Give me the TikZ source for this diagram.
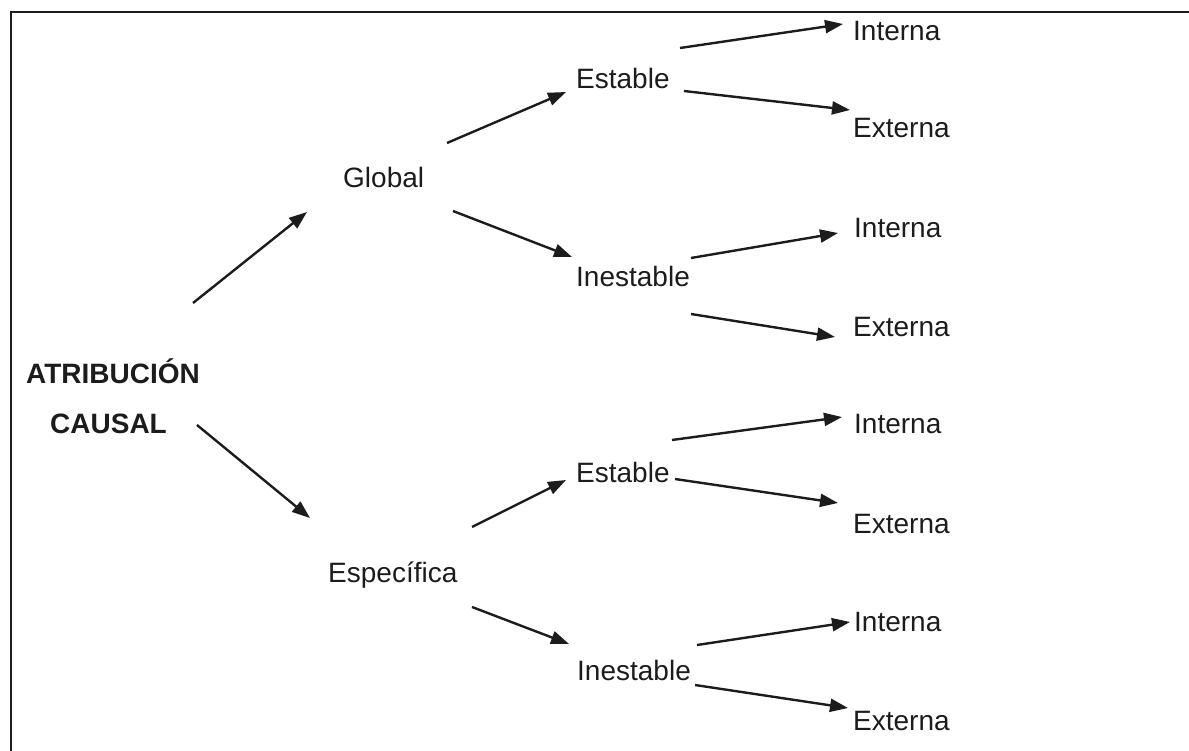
\documentclass[tikz,border=0pt]{standalone}
\usepackage{fontspec}
\setmainfont{Liberation Sans}
\usetikzlibrary{arrows.meta}
\definecolor{ink}{HTML}{1C1C1C}
\tikzset{
  txt/.style={anchor=base west, inner sep=0pt, font=\fontsize{28}{34}\selectfont, text=ink},
  boldtxt/.style={txt, font=\fontsize{28}{34}\selectfont\bfseries},
  arr/.style={draw=ink, line width=2.4pt, -{Triangle[length=18pt,width=13pt]}},
  frame/.style={draw=ink, line width=2pt}
}
\begin{document}
\begin{tikzpicture}[x=1pt,y=-1pt]
\useasboundingbox (0,0) rectangle (1189,751);
\draw[frame] (11,780) -- (11,12) -- (1210,12);
% nodes
\node[boldtxt] (rootA) at (26,384) {ATRIBUCIÓN};
\node[boldtxt] (rootB) at (50,433) {CAUSAL};
\node[txt] (glob) at (343,188) {Global};
\node[txt] (espe) at (328,582) {Específica};
\node[txt] (estA) at (576,89) {Estable};
\node[txt] (inesA) at (576,287) {Inestable};
\node[txt] (estB) at (576,482) {Estable};
\node[txt] (inesB) at (577,680) {Inestable};
\node[txt] (intA) at (853,41) {Interna};
\node[txt] (extA) at (853,138) {Externa};
\node[txt] (intB) at (854,238) {Interna};
\node[txt] (extB) at (853,337) {Externa};
\node[txt] (intC) at (854,433) {Interna};
\node[txt] (extC) at (853,533) {Externa};
\node[txt] (intD) at (854,631) {Interna};
\node[txt] (extD) at (853,730) {Externa};
% connectors
\draw[arr] ([xshift=167pt,yshift=81pt]rootA.base west) -- ([xshift=-36pt,yshift=-24pt]glob.base west);
\draw[arr] ([xshift=147pt,yshift=8pt]rootB.base west) -- ([xshift=-18pt,yshift=64pt]espe.base west);
\draw[arr] ([xshift=104pt,yshift=45pt]glob.base west) -- ([xshift=-10pt,yshift=-3pt]estA.base west);
\draw[arr] ([xshift=110pt,yshift=-23pt]glob.base west) -- ([xshift=-4pt,yshift=30pt]inesA.base west);
\draw[arr] ([xshift=104pt,yshift=41pt]estA.base west) -- ([xshift=-10pt,yshift=17pt]intA.base west);
\draw[arr] ([xshift=108pt,yshift=-2pt]estA.base west) -- ([xshift=-3pt,yshift=28pt]extA.base west);
\draw[arr] ([xshift=115pt,yshift=29pt]inesA.base west) -- ([xshift=-16pt,yshift=5pt]intB.base west);
\draw[arr] ([xshift=115pt,yshift=-27pt]inesA.base west) -- ([xshift=-18pt,yshift=0pt]extB.base west);
\draw[arr] ([xshift=144pt,yshift=55pt]espe.base west) -- ([xshift=-10pt,yshift=2pt]estB.base west);
\draw[arr] ([xshift=144pt,yshift=-25pt]espe.base west) -- ([xshift=-8pt,yshift=36pt]inesB.base west);
\draw[arr] ([xshift=96pt,yshift=42pt]estB.base west) -- ([xshift=-12pt,yshift=16pt]intC.base west);
\draw[arr] ([xshift=99pt,yshift=3pt]estB.base west) -- ([xshift=-15pt,yshift=30pt]extC.base west);
\draw[arr] ([xshift=120pt,yshift=35pt]inesB.base west) -- ([xshift=-4pt,yshift=9pt]intD.base west);
\draw[arr] ([xshift=118pt,yshift=-5pt]inesB.base west) -- ([xshift=-5pt,yshift=22pt]extD.base west);
\end{tikzpicture}
\end{document}
